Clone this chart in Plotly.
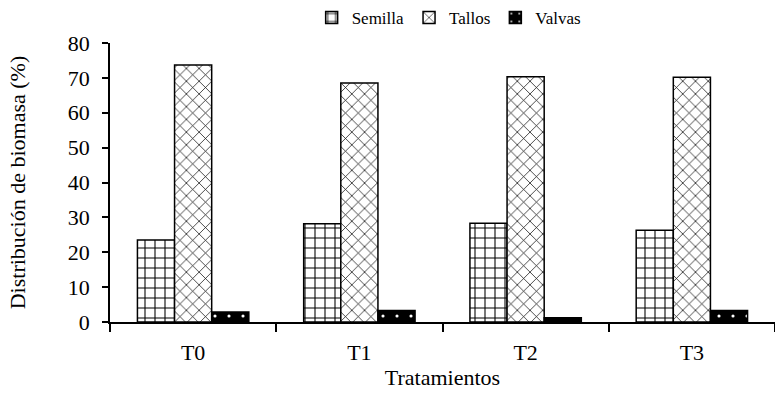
import plotly.graph_objects as go

categories = ["T0", "T1", "T2", "T3"]
semilla = [23.5, 28.2, 28.3, 26.3]
tallos = [73.7, 68.5, 70.3, 70.2]
valvas = [2.9, 3.3, 1.2, 3.3]
y_ticks = [0, 10, 20, 30, 40, 50, 60, 70, 80]

FONT = "Liberation Serif"

fig = go.Figure()
fig.add_trace(go.Bar(
    name="Semilla", x=categories, y=semilla,
    marker=dict(color="white", line=dict(color="black", width=1.5),
                pattern=dict(shape="+", fgcolor="black", bgcolor="white",
                             size=10, solidity=0.2, fillmode="replace")),
))
fig.add_trace(go.Bar(
    name="Tallos", x=categories, y=tallos,
    marker=dict(color="white", line=dict(color="black", width=1.5),
                pattern=dict(shape="x", fgcolor="black", bgcolor="white",
                             size=9, solidity=0.15, fillmode="replace")),
))
fig.add_trace(go.Bar(
    name="Valvas", x=categories, y=valvas,
    marker=dict(color="black", line=dict(color="black", width=1.5),
                pattern=dict(shape=".", fgcolor="white", bgcolor="black",
                             size=14, solidity=0.04, fillmode="replace")),
))

fig.update_layout(
    width=775, height=412,
    margin=dict(l=110, r=0, t=40, b=90),
    paper_bgcolor="white", plot_bgcolor="white",
    barmode="group", bargap=0.33, bargroupgap=0,
    font=dict(family=FONT, size=22, color="black"),
    showlegend=True,
    legend=dict(orientation="h", x=0.51, xanchor="center", y=1.09, yanchor="middle",
                font=dict(family=FONT, size=17), itemwidth=30,
                traceorder="normal", bgcolor="rgba(0,0,0,0)"),
    xaxis=dict(
        showline=True, linecolor="black", linewidth=1.5,
        ticks="outside", ticklen=8, tickcolor="black", tickwidth=1.5,
        tickson="boundaries", showgrid=False,
        tickfont=dict(family=FONT, size=22),
        ticklabelstandoff=10,
        title=dict(text="Tratamientos", font=dict(family=FONT, size=22), standoff=5),
    ),
    yaxis=dict(
        range=[0, 80], tickvals=y_ticks,
        showline=True, linecolor="black", linewidth=1.5,
        ticks="outside", ticklen=6, tickcolor="black", tickwidth=1.5,
        showgrid=False, zeroline=False,
        tickfont=dict(family=FONT, size=22),
        ticklabelstandoff=8,
        title=dict(text="Distribución de biomasa (%)", font=dict(family=FONT, size=22), standoff=36),
    ),
)

fig.write_html("out.html", config={"displayModeBar": False},
               post_script="document.body.style.margin='0';")
